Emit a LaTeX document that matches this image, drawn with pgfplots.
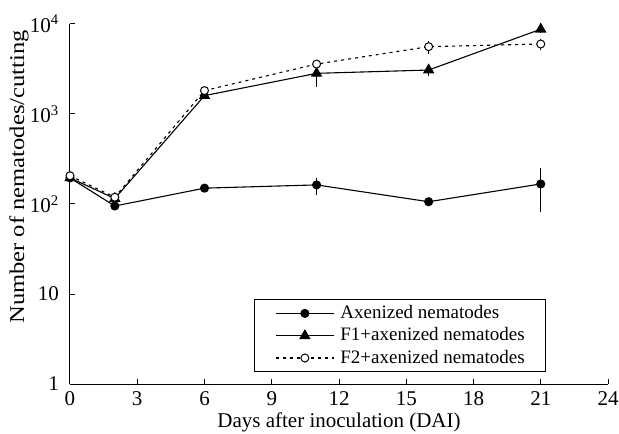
\documentclass[border=0pt]{standalone}
\usepackage{pgfplots}
\pgfplotsset{compat=1.18}
\usepackage{fontspec}
\setmainfont{Liberation Serif}
\begin{document}
\fontsize{21bp}{25bp}\selectfont
\begin{tikzpicture}
\useasboundingbox (-70bp,-50bp) rectangle (549bp,384bp);
\begin{axis}[
  at={(0,0)}, anchor=south west,
  scale only axis, width=538bp, height=360bp,
  xmin=0, xmax=24, ymin=1, ymax=10000, ymode=log,
  axis x line*=bottom, axis y line*=left,
  axis line style={-, line width=1bp, black},
  xtick={0,3,...,24},
  ytick={1,10,100,1000,10000},
  yticklabels={1,10,10\textsuperscript{2},10\textsuperscript{3},10\textsuperscript{4}},
  yminorticks=false,
  tick align=inside, major tick length=5bp,
  tick style={black, line width=1bp},
  /pgf/number format/assume math mode=true,
  xticklabel style={anchor=north, yshift=-0.5bp},
  yticklabel style={anchor=east, xshift=-4bp},
  xlabel={Days after inoculation (DAI)},
  ylabel={\scalebox{1.17}[1]{Number of nematodes/cutting}},
  every axis x label/.style={at={(rel axis cs:0.5,0)}, anchor=center, yshift=-38bp},
  every axis y label/.style={at={(rel axis cs:0,0.575)}, anchor=center, rotate=90, yshift=51bp},
  clip=false,
  legend cell align=left,
  legend style={at={(rel axis cs:0.885,0.033)}, anchor=south east,
    draw=black, line width=0.8bp, fill=white,
    font=\fontsize{19bp}{22bp}\selectfont,
    inner xsep=21bp, inner ysep=4.7bp,
    nodes={inner sep=0pt, text height=14bp, text depth=4bp},
    row sep=4.3bp,
    /tikz/every odd column/.append style={column sep=6bp}},
  legend image code/.code={\draw[mark repeat=2,mark phase=2,#1] plot coordinates {(0bp,0bp) (29bp,0bp) (58bp,0bp)};},
  error bars/y dir=both, error bars/y explicit,
  error bars/error mark=none,
  error bars/error bar style={line width=1.2bp, black, solid},
]
\addplot[black, line width=1.1bp, mark=*, mark size=4bp, mark options={solid, fill=black}]
  coordinates {(0,195) (2,95) (6,150) (11,163) += (0,30) -= (0,37) (16,106) (21,167) += (0,83) -= (0,85)};
\addlegendentry{Axenized nematodes}
\addplot[black, line width=1.1bp, mark=triangle*, mark size=5.5bp, mark options={solid, fill=black}]
  coordinates {(0,195) (2,115) (6,1600) (11,2830) += (0,270) -= (0,830) (16,3080) += (0,480) -= (0,440) (21,8750) += (0,1450) -= (0,850)};
\addlegendentry{F1+axenized nematodes}
\addplot[black, line width=1.1bp, dash pattern=on 3bp off 4bp, mark=*, mark size=4bp, mark options={solid, fill=white, line width=1bp}]
  coordinates {(0,206) (2,119) (6,1820) (11,3590) (16,5600) += (0,870) -= (0,930) (21,5990) += (0,910) -= (0,850)};
\addlegendentry{F2+axenized nematodes}
\end{axis}
\end{tikzpicture}
\end{document}
